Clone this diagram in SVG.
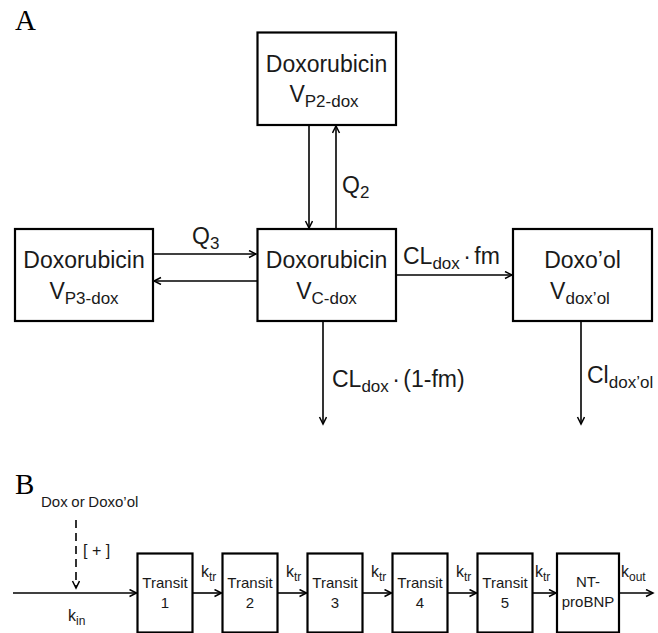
<svg xmlns="http://www.w3.org/2000/svg" width="658" height="633" viewBox="0 0 658 633">
<defs>
<marker id="ah" markerWidth="10" markerHeight="10" refX="8" refY="4" orient="auto" markerUnits="userSpaceOnUse">
<path d="M1,0.5 L8,4 L1,7.5" fill="none" stroke="#000" stroke-width="1.5"/>
</marker>
</defs>
<style>
.box{fill:#fff;stroke:#000;stroke-width:2.2}
.t{font-family:"Liberation Sans",Arial,sans-serif;fill:#1a1a1a}
.big{font-size:23px}
.sub{font-size:17px}
.sm{font-size:15px}
.k{font-size:16px}
.ks{font-size:12px}
.ws{word-spacing:-3px}
.lbl{font-family:"Liberation Serif","Times New Roman",serif;font-size:29px;fill:#000}
.c{fill:none;stroke:#000;stroke-width:1.6;marker-end:url(#ah)}
.d{stroke-dasharray:8 5}
</style>
<rect width="658" height="633" fill="#fff"/>
<text class="lbl" x="15" y="30">A</text>
<text class="lbl" x="15" y="494">B</text>

<g id="p2">
<rect class="box" x="257.5" y="32.5" width="138.5" height="92.5"/>
<text class="t big" x="326.5" y="72" text-anchor="middle">Doxorubicin</text>
<text class="t big" x="324" y="102" text-anchor="middle">V<tspan class="sub" dy="5">P2-dox</tspan></text>
</g>
<g id="p3">
<rect class="box" x="15" y="229" width="138" height="92"/>
<text class="t big" x="84" y="268" text-anchor="middle">Doxorubicin</text>
<text class="t big" x="84" y="299" text-anchor="middle">V<tspan class="sub" dy="5">P3-dox</tspan></text>
</g>
<g id="central">
<rect class="box" x="257.5" y="229" width="138.5" height="92"/>
<text class="t big" x="326.5" y="268" text-anchor="middle">Doxorubicin</text>
<text class="t big" x="326.5" y="299" text-anchor="middle">V<tspan class="sub" dy="5">C-dox</tspan></text>
</g>
<g id="doxool">
<rect class="box" x="513" y="229" width="139" height="92"/>
<text class="t big" x="582.5" y="268" text-anchor="middle">Doxo’ol</text>
<text class="t big" x="580" y="299" text-anchor="middle">V<tspan class="sub" dy="5">dox’ol</tspan></text>
</g>

<g id="t1"><rect class="box" x="137.5" y="553.5" width="55" height="79"/>
<text class="t sm" x="165" y="588" text-anchor="middle">Transit</text><text class="t sm" x="165" y="608" text-anchor="middle">1</text></g>
<g id="t2"><rect class="box" x="222.5" y="553.5" width="55" height="79"/>
<text class="t sm" x="250" y="588" text-anchor="middle">Transit</text><text class="t sm" x="250" y="608" text-anchor="middle">2</text></g>
<g id="t3"><rect class="box" x="307.5" y="553.5" width="55" height="79"/>
<text class="t sm" x="335" y="588" text-anchor="middle">Transit</text><text class="t sm" x="335" y="608" text-anchor="middle">3</text></g>
<g id="t4"><rect class="box" x="392.5" y="553.5" width="55" height="79"/>
<text class="t sm" x="420" y="588" text-anchor="middle">Transit</text><text class="t sm" x="420" y="608" text-anchor="middle">4</text></g>
<g id="t5"><rect class="box" x="477.5" y="553.5" width="55" height="79"/>
<text class="t sm" x="505" y="588" text-anchor="middle">Transit</text><text class="t sm" x="505" y="608" text-anchor="middle">5</text></g>
<g id="ntprobnp"><rect class="box" x="557" y="553.5" width="62" height="79"/>
<text class="t sm" x="588" y="587" text-anchor="middle">NT-</text><text class="t sm" x="588" y="607" text-anchor="middle">proBNP</text></g>

<g id="connectors">
<line class="c" x1="309" y1="125" x2="309" y2="228"/>
<line class="c" x1="336" y1="229" x2="336" y2="126"/>
<line class="c" x1="153" y1="254" x2="256" y2="254"/>
<line class="c" x1="257" y1="281" x2="154" y2="281"/>
<line class="c" x1="396" y1="275" x2="512" y2="275"/>
<line class="c" x1="323" y1="321" x2="323" y2="424"/>
<line class="c" x1="581" y1="321" x2="581" y2="424"/>

<line class="c d" x1="76" y1="520" x2="76" y2="588"/>
<line class="c" x1="13" y1="593" x2="136.5" y2="593"/>
<line class="c" x1="192.5" y1="593" x2="221.5" y2="593"/>
<line class="c" x1="277.5" y1="593" x2="306.5" y2="593"/>
<line class="c" x1="362.5" y1="593" x2="391.5" y2="593"/>
<line class="c" x1="447.5" y1="593" x2="476.5" y2="593"/>
<line class="c" x1="532.5" y1="593" x2="556" y2="593"/>
<line class="c" x1="619" y1="593" x2="653" y2="593"/>
</g>

<g id="labels">
<text class="t big" x="342" y="193">Q<tspan class="sub" dy="5">2</tspan></text>
<text class="t big" x="192" y="244">Q<tspan class="sub" dy="5">3</tspan></text>
<text class="t big ws" x="403" y="264">CL<tspan class="sub" dy="5">dox</tspan><tspan dy="-5"> · fm</tspan></text>
<text class="t big ws" x="332" y="387">CL<tspan class="sub" dy="5">dox</tspan><tspan dy="-5"> · (1-fm)</tspan></text>
<text class="t big" x="587" y="383">Cl<tspan class="sub" dy="5">dox’ol</tspan></text>

<text class="t" style="font-size:15px;word-spacing:-0.5px" x="41" y="507">Dox or Doxo’ol</text>
<text class="t" style="font-size:16px" x="83" y="556">[ + ]</text>
<text class="t k" x="68" y="621">k<tspan class="ks" dy="4">in</tspan></text>
<text class="t k" x="201" y="577">k<tspan class="ks" dy="4">tr</tspan></text>
<text class="t k" x="286" y="577">k<tspan class="ks" dy="4">tr</tspan></text>
<text class="t k" x="371" y="577">k<tspan class="ks" dy="4">tr</tspan></text>
<text class="t k" x="456" y="577">k<tspan class="ks" dy="4">tr</tspan></text>
<text class="t k" x="535" y="577">k<tspan class="ks" dy="4">tr</tspan></text>
<text class="t k" x="621" y="577">k<tspan class="ks" dy="4">out</tspan></text>
</g>
</svg>
